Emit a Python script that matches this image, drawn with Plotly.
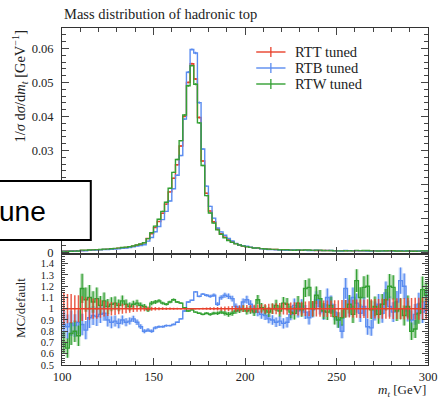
import plotly.graph_objects as go

# ---------------- data ----------------
bin_edges = list(range(100, 302, 2))

# RTT tuned (reference / "default"), normalised 1/sigma dsigma/dm_t per 2 GeV bin
rtt = [
    0.00040, 0.00043, 0.00046, 0.00049, 0.00053, 0.00057, 0.00061, 0.00066, 0.00071, 0.00076,
    0.00082, 0.00089, 0.00096, 0.00104, 0.00113, 0.00123, 0.00134, 0.00147, 0.00162, 0.00180,
    0.00210, 0.00240, 0.00280, 0.00410, 0.00550, 0.00730, 0.00910, 0.01150, 0.01420, 0.01780,
    0.02180, 0.02580, 0.03130, 0.04000, 0.05000, 0.05550, 0.05100, 0.03970, 0.02690, 0.01740,
    0.01220, 0.00900, 0.00690, 0.00550, 0.00450, 0.00370, 0.00310, 0.00260, 0.00220, 0.00190,
    0.00170, 0.00150, 0.00135, 0.00122, 0.00112, 0.00104, 0.00097, 0.00091, 0.00086, 0.00081,
    0.00077, 0.00074, 0.00071, 0.00068, 0.00066, 0.00064, 0.00062, 0.00060, 0.00059, 0.00058,
    0.00057, 0.00056, 0.00055, 0.00054, 0.00053, 0.00052, 0.00051, 0.00050, 0.00050, 0.00049,
    0.00048, 0.00048, 0.00047, 0.00047, 0.00046, 0.00046, 0.00045, 0.00045, 0.00044, 0.00044,
    0.00043, 0.00043, 0.00042, 0.00042, 0.00041, 0.00041, 0.00040, 0.00040, 0.00040, 0.00039,
]

# MC / default ratios
rtb_ratio = [
    0.86, 0.84, 0.87, 0.85, 0.88, 0.86, 0.81, 0.92, 0.94, 0.93,
    0.95, 0.96, 0.90, 0.88, 0.89, 0.87, 0.90, 0.88, 0.89, 0.91,
    0.88, 0.84, 0.80, 0.81, 0.80, 0.83, 0.84, 0.84, 0.85, 0.85,
    0.86, 0.88, 0.91, 0.98, 1.06, 1.075, 1.15, 1.11, 1.13, 1.12,
    1.11, 1.12, 1.04, 1.10, 1.12, 1.11, 1.09, 1.02, 1.00, 1.06,
    1.08, 1.04, 0.99, 0.97, 0.95, 0.94, 0.91, 0.90, 0.88, 0.89,
    0.87, 0.88, 0.95, 1.03, 0.98, 1.02, 0.97, 0.92, 0.99, 1.08,
    1.02, 0.97, 1.10, 1.04, 0.97, 0.90, 0.80, 1.18, 1.01, 1.10,
    1.05, 0.96, 1.02, 0.84, 0.83, 0.98, 1.04, 0.96, 1.14, 1.02,
    0.97, 1.06, 1.25, 1.20, 0.98, 0.90, 0.95, 1.04, 0.97, 1.06,
]
rtw_ratio = [
    0.70, 0.65, 0.78, 0.80, 0.76, 1.18, 1.08, 1.10, 1.06, 1.09,
    1.03, 1.07, 1.02, 1.04, 1.05, 1.03, 1.07, 1.04, 1.02, 1.04,
    1.05, 1.03, 1.02, 0.99, 1.05, 1.06, 1.07, 1.05, 1.04, 1.06,
    1.08, 1.06, 1.05, 1.01, 0.98, 0.99, 0.97, 0.96, 0.95, 0.96,
    0.95, 0.96, 0.96, 0.97, 0.96, 0.95, 0.96, 0.98, 0.99, 1.00,
    0.98, 0.99, 0.97, 1.08, 1.01, 0.99, 0.97, 1.00, 1.03, 0.98,
    1.05, 1.04, 0.97, 0.96, 1.05, 0.99, 1.18, 1.19, 1.00, 1.12,
    1.09, 0.98, 0.97, 1.03, 0.93, 0.90, 0.92, 1.00, 1.04, 0.95,
    1.25, 1.10, 1.19, 1.20, 0.99, 1.02, 0.95, 1.04, 1.08, 1.20,
    1.19, 0.98, 1.00, 0.94, 1.02, 0.80, 0.82, 0.96, 1.17, 1.12,
]
# relative statistical uncertainty per bin
rel_err = [
    0.14, 0.13, 0.13, 0.12, 0.12, 0.11, 0.10, 0.10, 0.09, 0.09,
    0.08, 0.07, 0.065, 0.06, 0.055, 0.05, 0.045, 0.04, 0.035, 0.03,
    0.028, 0.025, 0.022, 0.02, 0.018, 0.016, 0.014, 0.012, 0.011, 0.010,
    0.009, 0.008, 0.007, 0.006, 0.006, 0.005, 0.006, 0.007, 0.008, 0.010,
    0.012, 0.014, 0.016, 0.018, 0.020, 0.022, 0.024, 0.026, 0.028, 0.030,
    0.032, 0.034, 0.036, 0.038, 0.040, 0.042, 0.044, 0.046, 0.048, 0.050,
    0.052, 0.054, 0.056, 0.058, 0.060, 0.062, 0.064, 0.066, 0.068, 0.070,
    0.071, 0.072, 0.073, 0.074, 0.075, 0.076, 0.077, 0.078, 0.079, 0.080,
    0.081, 0.082, 0.083, 0.084, 0.085, 0.086, 0.087, 0.088, 0.089, 0.090,
    0.091, 0.092, 0.093, 0.094, 0.095, 0.096, 0.097, 0.098, 0.099, 0.100,
]

series_names = ["RTT tuned", "RTB tuned", "RTW tuned"]
colors = ["#e8412c", "#5a8cf0", "#33a033"]
band_colors = ["rgba(232,65,44,0.25)", "rgba(90,140,240,0.35)", "rgba(51,160,51,0.35)"]

y_ticks_main = [0, 0.01, 0.02, 0.03, 0.04, 0.05, 0.06]
y_ticks_main_text = ["0", "0.01", "0.02", "0.03", "0.04", "0.05", "0.06"]
y_ticks_ratio = [0.5, 0.6, 0.7, 0.8, 0.9, 1.0, 1.1, 1.2, 1.3, 1.4]
y_ticks_ratio_text = ["0.5", "0.6", "0.7", "0.8", "0.9", "1", "1.1", "1.2", "1.3", "1.4"]
x_ticks = [100, 150, 200, 250, 300]

# ---------------- derived ----------------
centers = [(a + b) / 2 for a, b in zip(bin_edges[:-1], bin_edges[1:])]
rtb = [a * b for a, b in zip(rtt, rtb_ratio)]
rtw = [a * b for a, b in zip(rtt, rtw_ratio)]
main_vals = [rtt, rtb, rtw]
ratios = [[1.0] * len(rtt), rtb_ratio, rtw_ratio]

def step(v):
    return list(v) + [v[-1]]

fig = go.Figure()

# ---- main panel: step histograms ----
for vals, col in zip(main_vals, colors):
    fig.add_trace(go.Scatter(x=bin_edges, y=step(vals), mode="lines", line_shape="hv",
                             line=dict(color=col, width=1.4), xaxis="x", yaxis="y",
                             hoverinfo="skip"))
for vals, col in zip(main_vals, colors):
    fig.add_trace(go.Scatter(x=centers, y=vals, mode="markers",
                             marker=dict(size=1, color="rgba(0,0,0,0)"),
                             error_y=dict(type="data", array=[v * e for v, e in zip(vals, rel_err)],
                                          thickness=1.3, width=0, color=col),
                             xaxis="x", yaxis="y", hoverinfo="skip"))

# ---- ratio panel ----
for i in (1, 2):
    r = ratios[i]
    lo = [a - a * e for a, e in zip(r, rel_err)]
    hi = [a + a * e for a, e in zip(r, rel_err)]
    fig.add_trace(go.Scatter(x=bin_edges, y=step(lo), mode="lines", line_shape="hv",
                             line=dict(width=0, color=band_colors[i]), xaxis="x2", yaxis="y2",
                             hoverinfo="skip"))
    fig.add_trace(go.Scatter(x=bin_edges, y=step(hi), mode="lines", line_shape="hv",
                             line=dict(width=0, color=band_colors[i]), fill="tonexty",
                             fillcolor=band_colors[i], xaxis="x2", yaxis="y2", hoverinfo="skip"))
for i in (1, 2):
    r = ratios[i]
    fig.add_trace(go.Scatter(x=centers, y=r, mode="markers",
                             marker=dict(size=1, color="rgba(0,0,0,0)"),
                             error_y=dict(type="data", array=[a * e for a, e in zip(r, rel_err)],
                                          thickness=1.2, width=0, color=colors[i]),
                             xaxis="x2", yaxis="y2", hoverinfo="skip"))
    fig.add_trace(go.Scatter(x=bin_edges, y=step(r), mode="lines", line_shape="hv",
                             line=dict(color=colors[i], width=1.4), xaxis="x2", yaxis="y2",
                             hoverinfo="skip"))
# reference (red) on top
fig.add_trace(go.Scatter(x=centers, y=ratios[0], mode="markers",
                         marker=dict(size=1, color="rgba(0,0,0,0)"),
                         error_y=dict(type="data", array=rel_err, thickness=1.5, width=0,
                                      color="rgba(232,65,44,0.85)"),
                         xaxis="x2", yaxis="y2", hoverinfo="skip"))
fig.add_trace(go.Scatter(x=bin_edges, y=step(ratios[0]), mode="lines", line_shape="hv",
                         line=dict(color=colors[0], width=1.5), xaxis="x2", yaxis="y2",
                         hoverinfo="skip"))

serif = "Liberation Serif"
tickfont = dict(family=serif, size=12.5, color="#222")
axis_common = dict(showline=True, linecolor="#333", linewidth=1, mirror="allticks",
                   ticks="inside", tickcolor="#444", tickwidth=1, showgrid=False, zeroline=False)

split = 0.329
fig.update_layout(
    width=448, height=399, margin=dict(l=62, r=11, t=28, b=34),
    plot_bgcolor="white", paper_bgcolor="white", showlegend=False,
    xaxis=dict(domain=[0, 1], anchor="y", range=[100, 300], showticklabels=False,
               tickvals=x_ticks, ticklen=7,
               minor=dict(dtick=10, tick0=100, ticklen=4, ticks="inside", tickcolor="#444"),
               matches="x2", **axis_common),
    yaxis=dict(domain=[split, 1], anchor="x", range=[-0.0005, 0.066],
               tickvals=y_ticks_main, ticktext=y_ticks_main_text, ticklen=7,
               minor=dict(dtick=0.002, tick0=0, ticklen=4, ticks="inside", tickcolor="#444"),
               tickfont=tickfont, ticklabelstandoff=5, **axis_common),
    xaxis2=dict(domain=[0, 1], anchor="y2", range=[100, 300], tickvals=x_ticks,
                ticktext=[str(v) for v in x_ticks], ticklen=7, tickfont=tickfont,
                minor=dict(dtick=10, tick0=100, ticklen=4, ticks="inside", tickcolor="#444"),
                ticklabelstandoff=0, **axis_common),
    yaxis2=dict(domain=[0, split], anchor="x2", range=[0.5, 1.485],
                tickvals=y_ticks_ratio, ticktext=y_ticks_ratio_text, ticklen=6,
                minor=dict(dtick=0.02, tick0=0.5, ticklen=3, ticks="inside", tickcolor="#444"),
                tickfont=dict(family=serif, size=10.5, color="#222"), ticklabelstandoff=5,
                **axis_common),
)

W, H = 375.0, 337.0
def px(x):
    return (x - 62) / W
def py(y):
    return (365 - y) / H

annotations = [
    dict(text="Mass distribution of hadronic top", x=px(62), y=py(14), xref="paper", yref="paper",
         xanchor="left", yanchor="middle", showarrow=False, font=dict(family=serif, size=14.5, color="#222")),
    dict(text="1/<i>σ</i> d<i>σ</i>/d<i>m</i><sub><i>t</i></sub> [GeV<sup>−1</sup>]",
         x=px(18), y=py(28), xref="paper", yref="paper", xanchor="center", yanchor="top",
         textangle=-90, showarrow=False, font=dict(family=serif, size=14.5, color="#222")),
    dict(text="MC/default", x=px(19), y=py(308), xref="paper", yref="paper", xanchor="center",
         yanchor="middle", textangle=-90, showarrow=False, font=dict(family=serif, size=13, color="#222")),
    dict(text="<i>m</i><sub><i>t</i></sub> [GeV]", x=px(437), y=py(390), xref="paper", yref="paper",
         xanchor="right", yanchor="middle", showarrow=False, font=dict(family=serif, size=13, color="#222")),
]
shapes = []
legend_rows = [52, 68, 84]
for name, col, yy in zip(series_names, colors, legend_rows):
    shapes.append(dict(type="line", xref="paper", yref="paper", x0=px(261), x1=px(291),
                       y0=py(yy), y1=py(yy), line=dict(color=col, width=1.4)))
    shapes.append(dict(type="line", xref="paper", yref="paper", x0=px(276), x1=px(276),
                       y0=py(yy - 5), y1=py(yy + 5), line=dict(color=col, width=1.3)))
    annotations.append(dict(text=name, x=px(299), y=py(yy), xref="paper", yref="paper",
                            xanchor="left", yanchor="middle", showarrow=False,
                            font=dict(family=serif, size=14.5, color="#222")))

# overlaid label box (partially cropped) from the source image
shapes.append(dict(type="rect", xref="paper", yref="paper", x0=px(-10), x1=px(91.5),
                   y0=py(240), y1=py(181), line=dict(color="black", width=2),
                   fillcolor="white", layer="above"))
annotations.append(dict(text="une", x=px(48), y=py(211), xref="paper", yref="paper",
                        xanchor="right", yanchor="middle", showarrow=False,
                        font=dict(family="Liberation Sans", size=28, color="black")))

fig.update_layout(shapes=shapes, annotations=annotations)
fig.write_html("out.html")
